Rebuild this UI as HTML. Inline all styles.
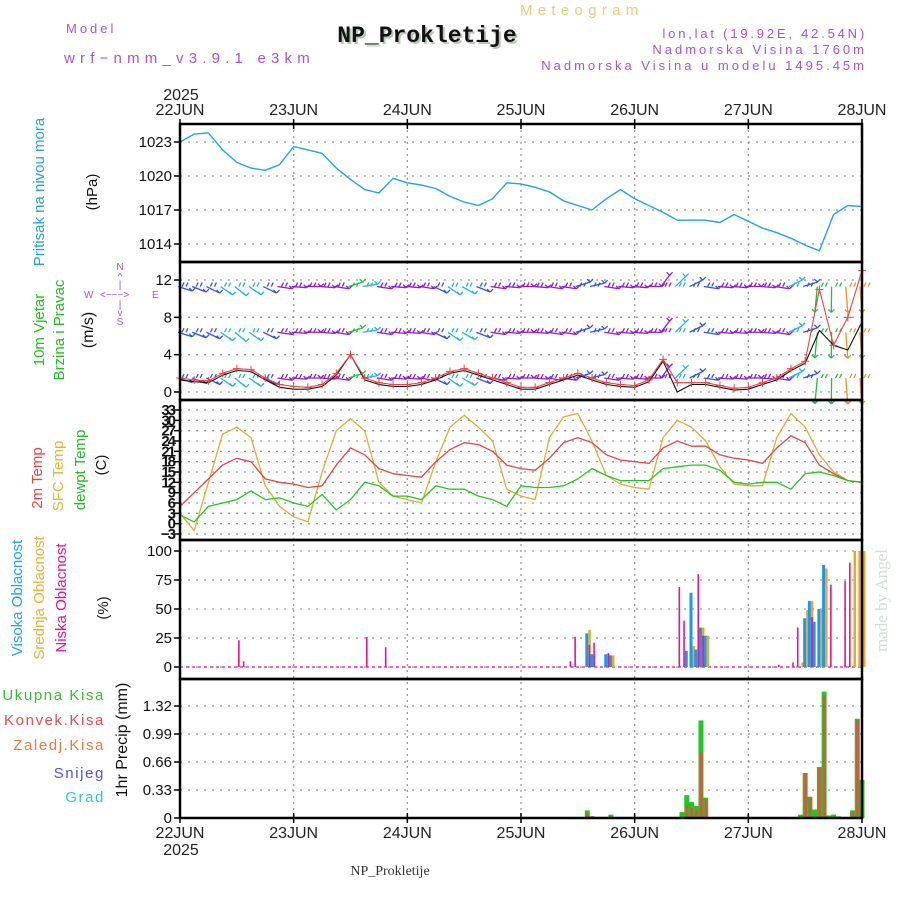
<!DOCTYPE html>
<html><head><meta charset="utf-8">
<style>
html,body{margin:0;padding:0;background:#fff;}
svg{display:block;font-family:"Liberation Sans",sans-serif;}
</style></head>
<body>
<svg id="chart" width="900" height="900" viewBox="0 0 900 900" xmlns="http://www.w3.org/2000/svg">
<rect width="900" height="900" fill="#fff"/>
<g id="header">
<text x="66" y="33" font-size="13" fill="#a64fe8" letter-spacing="3">Model</text>
<text x="64" y="63" font-size="15" fill="#a64fe8" letter-spacing="5.2">wrf−nmm_v3.9.1 e3km</text>
<text x="520" y="15" font-size="15" fill="#f0c878" letter-spacing="5.3">Meteogram</text>
<text x="429" y="44" font-size="23" font-weight="bold" font-family="Liberation Mono,monospace" text-anchor="middle" fill="#b8c8b8">NP_Prokletije</text>
<text x="427" y="42" font-size="23" font-weight="bold" font-family="Liberation Mono,monospace" text-anchor="middle" fill="#111">NP_Prokletije</text>
<text x="867" y="38" font-size="13" fill="#a64fe8" text-anchor="end" letter-spacing="2.8">lon,lat (19.92E, 42.54N)</text>
<text x="867" y="54" font-size="13" fill="#a64fe8" text-anchor="end" letter-spacing="3">Nadmorska Visina 1760m</text>
<text x="867" y="70" font-size="13" fill="#a64fe8" text-anchor="end" letter-spacing="3">Nadmorska Visina u modelu 1495.45m</text>
<text x="181" y="100" font-size="16" fill="#222" text-anchor="middle">2025</text>
<text x="181" y="855" font-size="16" fill="#222" text-anchor="middle">2025</text>
<text x="390" y="875" font-size="14" fill="#333" font-family="Liberation Serif,serif" text-anchor="middle">NP_Prokletije</text>
<text transform="translate(887,652) rotate(-90)" font-size="17" fill="#d4dcd4" font-family="Liberation Serif,serif">made by Angel</text>
</g>
<g id="labels">
<text transform="translate(44,192) rotate(-90)" font-size="15" fill="#20a0f0" text-anchor="middle">Pritisak na nivou mora</text>
<text transform="translate(97,192) rotate(-90)" font-size="15" fill="#111" text-anchor="middle">(hPa)</text>
<text transform="translate(44,330) rotate(-90)" font-size="15" fill="#20c020" text-anchor="middle">10m Vjetar</text>
<text transform="translate(64,330) rotate(-90)" font-size="15" fill="#20c020" text-anchor="middle">Brzina i Pravac</text>
<text transform="translate(93,330) rotate(-90)" font-size="16" fill="#111" text-anchor="middle">(m/s)</text>
<g font-size="10" fill="#a64fe8">
<text x="120" y="270" text-anchor="middle">N</text>
<text x="120" y="280" text-anchor="middle">^</text>
<text x="120" y="288" text-anchor="middle">|</text>
<text x="84" y="298">W</text>
<text x="100" y="298">&lt;−−−&gt;</text>
<text x="152" y="298">E</text>
<text x="120" y="308" text-anchor="middle">|</text>
<text x="120" y="316" text-anchor="middle">v</text>
<text x="120" y="325" text-anchor="middle">S</text>
</g>
<text transform="translate(42,478) rotate(-90)" font-size="15" fill="#f04040" text-anchor="middle">2m Temp</text>
<text transform="translate(63,476) rotate(-90)" font-size="15" fill="#f0b030" text-anchor="middle">SFC Temp</text>
<text transform="translate(85,470) rotate(-90)" font-size="15" fill="#20c020" text-anchor="middle">dewpt Temp</text>
<text transform="translate(106,465) rotate(-90)" font-size="15" fill="#111" text-anchor="middle">(C)</text>
<text transform="translate(22,598) rotate(-90)" font-size="15" fill="#20a0f0" text-anchor="middle">Visoka Oblacnost</text>
<text transform="translate(44,598) rotate(-90)" font-size="15" fill="#f0b030" text-anchor="middle">Srednja Oblacnost</text>
<text transform="translate(66,598) rotate(-90)" font-size="15" fill="#f0108a" text-anchor="middle">Niska Oblacnost</text>
<text transform="translate(108,608) rotate(-90)" font-size="15" fill="#111" text-anchor="middle">(%)</text>
<g font-size="15" text-anchor="end" letter-spacing="1.6">
<text x="105" y="700" fill="#30c030">Ukupna Kisa</text>
<text x="105" y="725" fill="#f04848">Konvek.Kisa</text>
<text x="105" y="750" fill="#f07838">Zaledj.Kisa</text>
<text x="105" y="778" fill="#5050f0">Snijeg</text>
<text x="105" y="802" fill="#30c8c8">Grad</text>
</g>
<text transform="translate(127,740) rotate(-90)" font-size="16" fill="#111" text-anchor="middle">1hr Precip (mm)</text>
</g>
<g id="grid"></g>
<g id="marks"></g>
<g id="frame"></g>
</svg>
<script>
// ===== data (3-hourly, hour 0 = 22JUN 00) =====
const dayLabels = ["22JUN","23JUN","24JUN","25JUN","26JUN","27JUN","28JUN"];
const pressure = [1023.0,1023.7,1023.8,1022.3,1021.2,1020.7,1020.5,1021.0,1022.6,1022.3,1022.0,1020.7,1019.7,1018.8,1018.5,1019.8,1019.4,1019.2,1018.9,1018.2,1017.7,1017.4,1018.0,1019.4,1019.3,1019.0,1018.6,1017.8,1017.4,1017.0,1018.0,1018.8,1018.0,1017.4,1016.8,1016.1,1016.1,1016.1,1015.9,1016.6,1016.0,1015.4,1015.0,1014.5,1013.9,1013.4,1016.6,1017.4,1017.3];
const pressureTicks = [1014,1017,1020,1023];
const windSpeed = [1.5,1.3,1.2,2,2.5,2.4,1.5,0.8,0.6,0.5,0.8,2,4,1.5,1,0.8,0.8,1,1.5,2.2,2.5,2,1.5,1,0.5,0.5,1,1.5,2,1.5,1,0.8,0.7,1.3,3.5,1,1,1,0.7,0.4,0.5,1,1.5,2.5,3.3,11,5,8,13];
const windGust = [1.3,1.1,1.0,1.8,2.3,2.2,1.3,0.5,0.3,0.3,0.6,1.8,4,1.3,0.8,0.6,0.6,0.8,1.3,2,2.3,1.8,1.3,0.8,0.3,0.3,0.8,1.3,1.8,1.3,0.8,0.6,0.5,1.1,3.3,0,0.8,0.8,0.5,0.2,0.3,0.8,1.3,2.3,3.1,6.6,5,4.5,7.5];
const windColor = ["B","B","B","C","C","C","B","P","P","P","P","P","G","C","P","P","P","P","B","C","C","B","P","P","P","P","P","P","B","B","P","P","P","P","P","C","B","B","P","P","P","P","P","C","B","G","G","O","O"];
const windDir = [20,25,30,40,45,40,30,10,5,0,5,10,-20,-10,10,5,5,10,30,40,35,25,10,5,0,5,10,10,-20,-15,10,5,5,0,-60,-50,-30,10,5,5,0,5,10,-30,-20,100,95,90,90];
const windTicks = [0,4,8,12];
const t2m = [5,9,13,17,19,18,13,12,11.5,10.5,11,17,22,20,16,14.5,14,13.5,18,21.5,23.5,23,21,17,16,15.5,19,23.5,25,23.5,20,18.5,18,17.5,22,24,22.5,22.5,20,19,18.5,17.5,22,25.5,23.5,17,14.5,12.5,12];
const tsfc = [3,-2,12,26,28,25,11,5,2,0.5,15,27,30.5,27,12,8,7,6,18,28,31.5,28,24,10,8,7,25,31,32,24,14,11.5,10.5,10,25,30,28,24,16.5,11.5,11,11,25,32,28,20,15,12.5,12];
const tdew = [2.5,0.5,5,6,7,9.5,7,7.5,6,5,8.5,4,7,12,11,8,8,7,11,10,10,8,7,5,11,10.5,10.5,11,13,16,14,12.5,12.5,12.5,16,16.5,17,17,15.5,12,11.5,12,12,10,14.5,15,14,12.5,12];
const tempTicks = [-3,0,3,6,9,12,15,18,21,24,27,30,33];
const cloudHours = [13,14,40,44,83,84,86,87,88,90,91,106,107,108,109,110,111,127,130,131,132,133,134,135,136,138,141,142,143,144];
const cloudLow  = [23,5,26,17,5,26,0,19,21,0,12,69,40,0,0,80,27,2,4,34,0,0,43,0,0,71,74,90,0,0];
const cloudMid  = [0,0,0,0,0,0,32,11,0,11,10,0,0,18,15,34,27,0,0,4,49,57,0,50,85,0,0,100,100,100];
const cloudHigh = [0,0,0,0,0,0,29,11,0,11,10,0,14,64,15,34,27,0,0,0,42,57,39,50,88,0,0,0,0,0];
const cloudTicks = [0,25,50,75,100];
const precipHours = [86,87,91,106,107,108,109,110,111,131,132,133,134,135,136,137,138,139,142,143,144];
const precipTotal = [0.09,0.02,0.04,0.07,0.27,0.19,0.14,1.15,0.24,0.04,0.53,0.25,0.10,0.6,1.49,0.03,0.04,0.02,0.09,1.17,0.45];
const precipConv  = [0.06,0.02,0,0,0.14,0.12,0.09,0.77,0.21,0,0.53,0.25,0,0.6,1.44,0,0,0,0.08,1.15,0.45];
const precipTicks = [0,0.33,0.66,0.99,1.32];

// ===== layout & scales =====
const NS = "http://www.w3.org/2000/svg";
const L = 180, R = 862;
const X = h => L + h * (R - L) / 144;
const panels = {
  p: {top:124, bot:262, y: v => 142 + (1023 - v) * 11.333},
  w: {top:262, bot:400, y: v => 392 - v * 9.333},
  t: {top:400, bot:540, y: v => 534 - (v + 3) * 3.444},
  c: {top:540, bot:679, y: v => 667 - v * 1.16},
  r: {top:679, bot:818, y: v => 818 - v * 84.85}
};
const grid = document.getElementById('grid');
const marks = document.getElementById('marks');
const frame = document.getElementById('frame');
function el(tag, attrs, parent) {
  const e = document.createElementNS(NS, tag);
  for (const k in attrs) e.setAttribute(k, attrs[k]);
  parent.appendChild(e);
  return e;
}
function step(i) { return i * 3; }
const colorMap = {P:"#9018d8", B:"#3050f8", C:"#20b0f0", G:"#20c040", O:"#f09020"};

for (let d = 0; d <= 6; d++) {
  const x = X(d * 24);
  const g = el('line', {x1:x, x2:x, y1:124, y2:818, stroke:"#999", "stroke-width":1.3, "stroke-dasharray":"2,4"}, grid);
  
  
  for (const y of [115, 838]) {
    const t = el('text', {x:x, y:y, "font-size":16, fill:"#222", "text-anchor":"middle"}, grid);
    t.textContent = dayLabels[d];
    
    
  }
  for (const y of [124, 818]) {
    el('line', {x1:x, x2:x, y1:y - 5, y2:y + 5, stroke:"#000", "stroke-width":1.5}, frame);
  }
}
function hgrid(panel, ticks, fmt, rotate) {
  const P = panels[panel];
  ticks.forEach(v => {
    const y = P.y(v);
    const g = el('line', {x1:L, x2:R, y1:y, y2:y, stroke:"#999", "stroke-width":1.3, "stroke-dasharray":"2,6"}, grid);
    
    
    el('line', {x1:L - 6, x2:L, y1:y, y2:y, stroke:"#000", "stroke-width":1.5}, frame);
    let t;
    if (rotate) {
      t = el('text', {x:L - 6, y:y + 5, "font-size":15, "font-weight":"bold", fill:"#111", "text-anchor":"end", "letter-spacing":"-2"}, frame);
    } else {
      t = el('text', {x:L - 8, y:y + 5, "font-size":15, fill:"#111", "text-anchor":"end"}, frame);
    }
    t.textContent = fmt(v);
    
    
  });
}
hgrid('p', pressureTicks, v => String(v));
hgrid('w', windTicks, v => String(v));
hgrid('t', tempTicks, v => v < 0 ? "−" + (-v) : String(v), true);
hgrid('c', cloudTicks, v => String(v));
hgrid('r', precipTicks, v => v === 0 ? "0" : v.toFixed(2));

function polyline(arr, yf, color, w, name) {
  const pts = arr.map((v, i) => X(step(i)).toFixed(1) + "," + yf(v).toFixed(1)).join(" ");
  const p = el('polyline', {points:pts, fill:"none", stroke:color, "stroke-width":w, "stroke-linejoin":"round"}, marks);
  
  
}
polyline(pressure, panels.p.y, "#20a0f8", 1.4, 'pressure-line');

const rows = [11.3, 6.4, 1.5];
windColor.forEach((c, i) => {
  const x = X(step(i));
  rows.forEach(rv => {
    const y = panels.w.y(rv);
    const a = windDir[i] * Math.PI / 180;
    const len = windDir[i] > 60 ? 26 : 13;
    const x2 = x + Math.cos(a) * len, y2 = y + Math.sin(a) * len;
    const col = colorMap[c];
    const b = el('path', {d:`M${x - 2},${y} L${x2},${y2} M${x + 2},${y} l2,-4 M${x + 6},${y} l2,-4 M${x2},${y2} l-3,-3 M${x2},${y2} l3,-3`, stroke:col, "stroke-width":1.3, fill:"none"}, marks);
    
    
  });
});
polyline(windGust, panels.w.y, "#111", 1.1, 'wind-gust-line');
polyline(windSpeed, panels.w.y, "#f04040", 1.1, 'wind-speed-line');
windSpeed.forEach((v, i) => {
  const x = X(step(i)), y = panels.w.y(v);
  const m = el('path', {d:`M${x - 4},${y} h8 M${x},${y - 4} v8`, stroke:"#f04040", "stroke-width":1}, marks);
  
  
});

polyline(tsfc, panels.t.y, "#e8a830", 1.3, 'sfc-temp-line');
polyline(t2m, panels.t.y, "#f04040", 1.3, 't2m-line');
polyline(tdew, panels.t.y, "#20c820", 1.3, 'dewpoint-line');

const cb = el('line', {x1:L, x2:R, y1:panels.c.y(0), y2:panels.c.y(0), stroke:"#f0108a", "stroke-width":1.2, "stroke-dasharray":"3,3"}, marks);


cloudHours.forEach((h, i) => {
  const x = X(h), y0 = panels.c.y(0);
  if (cloudHigh[i] > 0) {
    const r = el('rect', {x:x - 2, y:panels.c.y(cloudHigh[i]), width:3, height:y0 - panels.c.y(cloudHigh[i]), fill:"#1898f0"}, marks);
    
    
  }
  if (cloudMid[i] > 0) {
    const r = el('rect', {x:x + 1, y:panels.c.y(cloudMid[i]), width:2.5, height:y0 - panels.c.y(cloudMid[i]), fill:"#e8a828"}, marks);
    
    
  }
  if (cloudLow[i] > 0) {
    const r = el('rect', {x:x - 3.5, y:panels.c.y(cloudLow[i]), width:1.6, height:y0 - panels.c.y(cloudLow[i]), fill:"#f0108a"}, marks);
    
    
  }
});

precipHours.forEach((h, i) => {
  const x = X(h), y0 = panels.r.y(0);
  if (precipTotal[i] > 0) {
    const r = el('rect', {x:x - 2.5, y:panels.r.y(precipTotal[i]), width:5, height:y0 - panels.r.y(precipTotal[i]), fill:"#20c820"}, marks);
    
    
  }
  if (precipConv[i] > 0) {
    const r = el('rect', {x:x - 1, y:panels.r.y(precipConv[i]), width:2.5, height:y0 - panels.r.y(precipConv[i]), fill:"#f04848"}, marks);
    
    
  }
});

['p','w','t','c','r'].forEach(k => {
  const P = panels[k];
  const f = el('rect', {x:L, y:P.top, width:R - L, height:P.bot - P.top, fill:"none", stroke:"#000", "stroke-width":2.5}, frame);
  
  
});
</script>
</body></html>
